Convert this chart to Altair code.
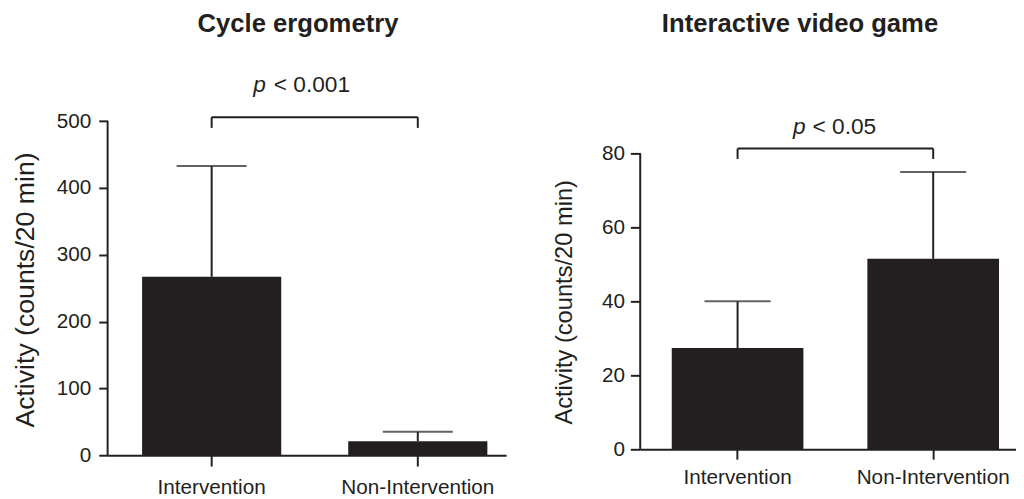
import altair as alt
import pandas as pd

# ---- data ----
groups = ["Intervention", "Non-Intervention"]
cycle_mean = [267, 21]
cycle_upper = [433, 35]
video_mean = [27.4, 51.5]
video_upper = [40, 75]
cycle_ticks = [0, 100, 200, 300, 400, 500]
video_ticks = [0, 20, 40, 60, 80]
cycle_bracket = [506, 490]   # bracket bar level, leg end
video_bracket = [81.3, 78.5]
cycle_p = "< 0.001"
video_p = "< 0.05"
cycle_p_y = 544
video_p_y = 85.3

INK = "#231f20"
REG = "Liberation Sans, Arial, Helvetica, sans-serif"


def panel(mean, upper, ticks, br, ptxt, p_y, title, ymax, width, height,
          pi, po, align, cap, ytick, ylabpad, xtick, xlabpad,
          yt_size, yt_x, yt_y, t_dx, t_off, p_dx, rest_dx):
    xs = alt.Scale(domain=groups, paddingInner=pi, paddingOuter=po, align=align,
                   round=False)
    ys = alt.Scale(domain=[0, ymax], nice=False, zero=True)
    x_axis = alt.Axis(title=None, domain=True, domainColor=INK, domainWidth=2,
                      ticks=True, tickSize=xtick, tickWidth=2, tickColor=INK,
                      labelFont=REG, labelFontSize=21, labelColor=INK,
                      labelPadding=xlabpad, labelAngle=0, grid=False)
    y_axis = alt.Axis(values=ticks, domain=False, tickSize=ytick, tickWidth=2,
                      tickColor=INK, labelFont=REG, labelFontSize=21,
                      labelColor=INK, labelPadding=ylabpad, grid=False,
                      labelFlush=False, labelOverlap=False,
                      title="Activity (counts/20 min)", titleFont=REG,
                      titleFontSize=yt_size, titleFontWeight="normal",
                      titleColor=INK, titleX=yt_x, titleY=yt_y, titleAngle=270,
                      titleAlign="center", titleBaseline="middle")

    def X(f):
        return alt.X(f, scale=xs, axis=x_axis)

    def Y(f):
        return alt.Y(f, scale=ys, axis=y_axis)

    df = pd.DataFrame({"group": groups, "mean": mean, "upper": upper})
    base = alt.Chart(df)
    bars = base.mark_bar(color=INK).encode(x=X("group:N"), y=Y("mean:Q"))
    err = base.mark_rule(color=INK, strokeWidth=2).encode(
        x=X("group:N"), y=Y("mean:Q"), y2="upper:Q")
    caps = base.mark_tick(color=INK, size=cap, thickness=2, orient="horizontal").encode(
        x=X("group:N"), y=Y("upper:Q"))

    yline = alt.Chart(pd.DataFrame({"lo": [ticks[0]], "hi": [ticks[-1]]})).mark_rule(
        color=INK, strokeWidth=2).encode(x=alt.value(0), y=Y("lo:Q"), y2="hi:Q")

    brh = alt.Chart(pd.DataFrame({"a": [groups[0]], "b": [groups[1]], "y": [br[0]]})).mark_rule(
        color=INK, strokeWidth=2).encode(x=X("a:N"), x2="b:N", y=Y("y:Q"))
    brl = alt.Chart(pd.DataFrame({"group": groups, "lo": [br[1]] * 2, "hi": [br[0]] * 2})).mark_rule(
        color=INK, strokeWidth=2).encode(x=X("group:N"), y=Y("lo:Q"), y2="hi:Q")

    tdf = pd.DataFrame({"group": [groups[0]], "y": [p_y], "t": [ptxt]})
    p1 = alt.Chart(tdf).mark_text(text="p", font=REG, fontStyle="italic", fontSize=23,
                                  align="right", baseline="alphabetic", dx=p_dx,
                                  color=INK).encode(x=X("group:N"), y=Y("y:Q"))
    p2 = alt.Chart(tdf).mark_text(font=REG, fontSize=23, align="left",
                                  baseline="alphabetic", dx=rest_dx,
                                  color=INK).encode(x=X("group:N"), y=Y("y:Q"), text="t:N")

    return alt.layer(bars, err, caps, yline, brh, brl, p1, p2).properties(
        width=width, height=height,
        title=alt.TitleParams(text=title, font=REG, fontSize=26, fontWeight="bold",
                              color=INK, anchor="middle", frame="group", dx=t_dx,
                              baseline="alphabetic", offset=t_off))


left = panel(cycle_mean, cycle_upper, cycle_ticks, cycle_bracket, cycle_p, cycle_p_y,
             "Cycle ergometry", 567, 404, 384,
             0.325, 0.129, 0.648, 71, 9, 8, 11, 11,
             27, -83, 216, -9, 17, 55, 63)
right = panel(video_mean, video_upper, video_ticks, video_bracket, video_p, video_p_y,
              "Interactive video game", 100.8, 381, 378,
              0.327, 0.124, 0.65, 67, 10, 6, 10, 8,
              24, -77, 228.5, -28.5, 19, 69, 76)

chart = alt.hconcat(left, right, spacing=47).properties(
    padding={"left": 4, "top": -1, "right": 0, "bottom": 0}
).configure_view(stroke=None)

chart.save("out.html", embed_options={"renderer": "svg", "actions": False})
